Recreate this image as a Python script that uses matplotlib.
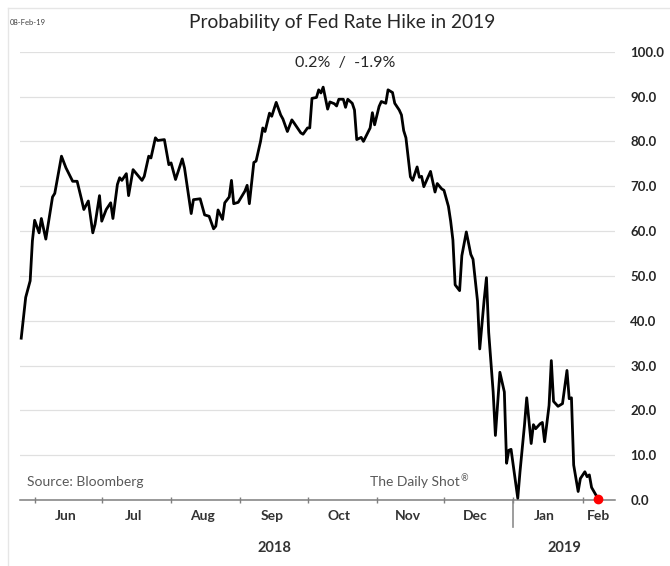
import matplotlib
matplotlib.use("Agg")
import matplotlib.pyplot as plt
import pandas as pd
from matplotlib.lines import Line2D

plt.rcParams["font.family"] = ["Lato", "DejaVu Sans"]

# probability of a Fed hike in 2019 (%)
dates = [
    "2018-05-26", "2018-05-28", "2018-05-30", "2018-05-31",
    "2018-06-01", "2018-06-03", "2018-06-04", "2018-06-06", "2018-06-09", "2018-06-10", "2018-06-13", "2018-06-15",
    "2018-06-18", "2018-06-20", "2018-06-22", "2018-06-23", "2018-06-25", "2018-06-27", "2018-06-28", "2018-06-30",
    "2018-07-01", "2018-07-03", "2018-07-05", "2018-07-06", "2018-07-08", "2018-07-09", "2018-07-10", "2018-07-12",
    "2018-07-13", "2018-07-15", "2018-07-19", "2018-07-20", "2018-07-22", "2018-07-23", "2018-07-25", "2018-07-26",
    "2018-07-29", "2018-07-31",
    "2018-08-01", "2018-08-03", "2018-08-06", "2018-08-07", "2018-08-10", "2018-08-11", "2018-08-14", "2018-08-16",
    "2018-08-18", "2018-08-20", "2018-08-21", "2018-08-22", "2018-08-24", "2018-08-25", "2018-08-27", "2018-08-28",
    "2018-08-29", "2018-08-31",
    "2018-09-03", "2018-09-04", "2018-09-05", "2018-09-07", "2018-09-08", "2018-09-10", "2018-09-11", "2018-09-12",
    "2018-09-14", "2018-09-15", "2018-09-17", "2018-09-19", "2018-09-20", "2018-09-22", "2018-09-24", "2018-09-25",
    "2018-09-28", "2018-09-29",
    "2018-10-01", "2018-10-02", "2018-10-03", "2018-10-05", "2018-10-06", "2018-10-07", "2018-10-08", "2018-10-10",
    "2018-10-11", "2018-10-13", "2018-10-14", "2018-10-15", "2018-10-17", "2018-10-18", "2018-10-19", "2018-10-21",
    "2018-10-22", "2018-10-23", "2018-10-25", "2018-10-26", "2018-10-29", "2018-10-30", "2018-10-31",
    "2018-11-02", "2018-11-03", "2018-11-05", "2018-11-06", "2018-11-08", "2018-11-09", "2018-11-11", "2018-11-12",
    "2018-11-13", "2018-11-14", "2018-11-16", "2018-11-17", "2018-11-19", "2018-11-20", "2018-11-21", "2018-11-22",
    "2018-11-24", "2018-11-25", "2018-11-27", "2018-11-28", "2018-11-30",
    "2018-12-01", "2018-12-03", "2018-12-04", "2018-12-05", "2018-12-06", "2018-12-08", "2018-12-09", "2018-12-11",
    "2018-12-13", "2018-12-14", "2018-12-16", "2018-12-17", "2018-12-19", "2018-12-20", "2018-12-21", "2018-12-23",
    "2018-12-24", "2018-12-26", "2018-12-28", "2018-12-29", "2018-12-30", "2018-12-31",
    "2019-01-02", "2019-01-03", "2019-01-04", "2019-01-06", "2019-01-07", "2019-01-09", "2019-01-10", "2019-01-11",
    "2019-01-13", "2019-01-14", "2019-01-15", "2019-01-17", "2019-01-18", "2019-01-19", "2019-01-21", "2019-01-23",
    "2019-01-25", "2019-01-26", "2019-01-27", "2019-01-28", "2019-01-30", "2019-01-31",
    "2019-02-02", "2019-02-03", "2019-02-04", "2019-02-05", "2019-02-08",
]
prob = [
    36.1, 45.2, 48.9, 57.8,
    62.4, 59.6, 62.8, 58.2, 67.6, 68.4, 76.7, 74.1, 71.1, 71.1, 67.0, 64.8, 66.7, 59.6, 61.5, 67.9,
    62.2, 64.8, 66.3, 62.8, 70.4, 71.9, 71.3, 72.8, 67.9, 73.7, 71.3, 72.2, 76.7, 76.3, 80.8, 80.2, 80.4, 74.8,
    75.2, 71.5, 76.1, 74.1, 63.9, 67.0, 67.2, 63.6, 63.3, 60.5, 61.1, 64.7, 62.6, 66.3, 67.6, 71.3, 66.1, 66.4,
    68.9, 70.2, 66.1, 75.3, 75.6, 80.0, 83.0, 82.2, 86.3, 85.6, 88.7, 85.9, 85.0, 82.2, 84.8, 84.1, 81.9, 81.6,
    83.0, 83.0, 89.6, 89.8, 91.5, 90.8, 92.1, 87.2, 88.8, 88.4, 87.9, 89.4, 89.4, 87.6, 89.4, 88.5, 87.0, 80.4,
    80.9, 80.0, 83.0, 86.4, 83.7,
    87.8, 88.9, 88.5, 91.5, 90.9, 88.5, 87.0, 85.9, 82.4, 80.8, 72.1, 71.3, 74.3, 72.0, 72.2, 69.9, 72.2, 73.3,
    68.7, 70.6, 69.4,
    69.1, 65.5, 62.2, 58.0, 48.0, 46.7, 54.5, 59.8, 54.8, 53.7, 44.4, 33.7, 44.8, 49.6, 37.4, 24.1, 14.4, 28.5,
    24.1, 8.2, 11.1, 11.3,
    4.1, 0.4, 6.3, 16.7, 22.8, 12.6, 16.8, 15.9, 17.0, 17.3, 13.0, 21.1, 31.1, 22.0, 20.9, 21.5, 28.9, 22.6,
    22.8, 7.8, 1.9, 4.8,
    6.3, 5.2, 5.6, 2.8, 0.2,
]
assert len(dates) == len(prob)

month_starts = pd.date_range("2018-06-01", "2019-02-01", freq="MS")
month_labels = ["Jun", "Jul", "Aug", "Sep", "Oct", "Nov", "Dec", "Jan", "Feb"]
year_labels = ["2018", "2019"]
yticks = list(range(0, 101, 10))

x = pd.to_datetime(dates)
x_start, x_end = pd.Timestamp("2018-05-25 12:00"), pd.Timestamp("2019-02-15 12:00")

fig = plt.figure(figsize=(6.7, 5.66), dpi=100)
ax = fig.add_axes([0.030, 0.1166, 0.888, 0.792])

ax.plot(x, prob, color="black", linewidth=2.0, clip_on=False, zorder=3)
ax.plot(x[-1:], prob[-1:], "o", color="#ff0000", markersize=6, clip_on=False, zorder=4)

ax.set_xlim(x_start, x_end)
ax.set_ylim(0, 100)

# grid + axes styling
ax.set_yticks(yticks)
ax.set_yticklabels([f"{v:.1f}" for v in yticks], fontsize=9.5, fontweight="bold", color="#262626")
ax.yaxis.tick_right()
ax.tick_params(axis="y", length=0, pad=11)
ax.grid(axis="y", color="#e0e0e0", linewidth=0.9)
ax.set_axisbelow(True)
for s in ["left", "right", "top"]:
    ax.spines[s].set_visible(False)
ax.spines["bottom"].set_color("#7f7f7f")
ax.spines["bottom"].set_linewidth(1.1)

# month ticks at month starts, labels centred in each month
ax.set_xticks(month_starts)
ax.set_xticklabels([])
ax.tick_params(axis="x", which="major", direction="inout", length=5, color="#7f7f7f", width=1)
label_pos = [s + pd.Timedelta(days=14) for s in month_starts[:-1]] + [month_starts[-1] + pd.Timedelta(days=7)]
for pos, lab in zip(label_pos, month_labels):
    ax.text(pos, -0.035, lab, transform=ax.get_xaxis_transform(), ha="center", va="center",
            fontsize=10, fontweight="bold", color="#333333")

# year separator and year labels
jan1 = month_starts[7]
ax.plot([jan1, jan1], [0, -0.06], transform=ax.get_xaxis_transform(), color="#8c8c8c",
        linewidth=1.2, clip_on=False)
ax.text(month_starts[0] + (jan1 - month_starts[0]) / 2, -0.108, year_labels[0],
        transform=ax.get_xaxis_transform(), ha="center", va="center", fontsize=10.5,
        fontweight="bold", color="#333333")
ax.text(jan1 + (x_end - jan1) / 2, -0.108, year_labels[1], transform=ax.get_xaxis_transform(),
        ha="center", va="center", fontsize=10.5, fontweight="bold", color="#333333")

# titles and notes
fig.text(0.510, 0.961, "Probability of Fed Rate Hike in 2019", ha="center", va="center",
         fontsize=13.8, color="#262626")
fig.text(0.015, 0.961, "08-Feb-19", ha="left", va="center", fontsize=5.5, color="#404040")
fig.text(0.515, 0.889, "0.2%  /  -1.9%", ha="center", va="center", fontsize=11.5, color="#262626")
fig.text(0.040, 0.148, "Source: Bloomberg", ha="left", va="center", fontsize=10, color="#595959")
fig.text(0.552, 0.148, "The Daily Shot", ha="left", va="center", fontsize=10, color="#595959")
fig.text(0.688, 0.155, "\u00ae", ha="left", va="center", fontsize=6.5, color="#595959")

# light frame around the chart
fig.add_artist(Line2D([0.012, 1.0], [0.986, 0.986], color="#e6e6e6", linewidth=1))
fig.add_artist(Line2D([0.012, 0.012], [0.0, 0.986], color="#e6e6e6", linewidth=1))

fig.savefig("out.png", dpi=100, facecolor="white")
plt.close(fig)
